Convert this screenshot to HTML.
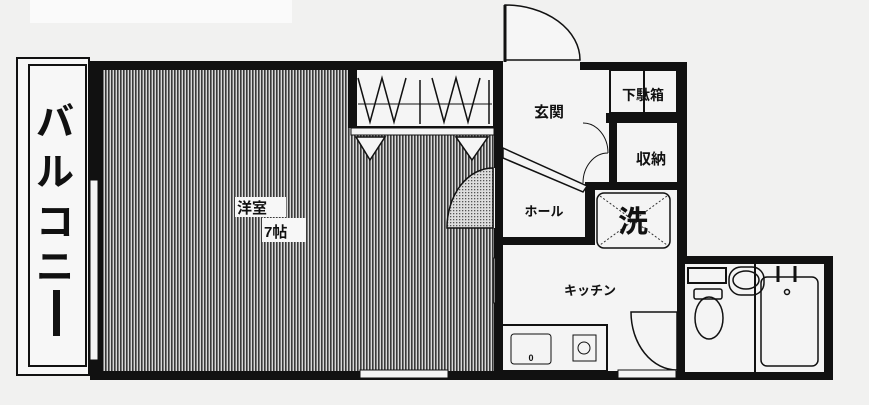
<!DOCTYPE html>
<html><head><meta charset="utf-8"><style>
html,body{margin:0;padding:0;background:#f1f1f0;}
svg{display:block}
text{font-family:"Liberation Sans","Noto Sans CJK JP",sans-serif;fill:#111;font-weight:bold}
</style></head><body>
<svg width="869" height="405" viewBox="0 0 869 405" xmlns="http://www.w3.org/2000/svg">
<defs>
<pattern id="h" width="3" height="10" patternUnits="userSpaceOnUse">
<rect width="3" height="10" fill="#d8d8d8"/><rect width="1.6" height="10" fill="#3a3a3a"/>
</pattern>
<pattern id="d" width="3" height="3" patternUnits="userSpaceOnUse">
<rect width="3" height="3" fill="#ddd"/><rect width="1.3" height="1.3" fill="#555"/>
</pattern>
</defs>
<rect x="0" y="0" width="869" height="405" fill="#f1f1f0"/>
<rect x="30" y="0" width="262" height="23" fill="#fafafa"/>

<!-- balcony -->
<rect x="17" y="58" width="72" height="317" fill="#f7f7f7" stroke="#111" stroke-width="2"/>
<rect x="29" y="65" width="57" height="301" fill="none" stroke="#111" stroke-width="2"/>
<text x="55" y="135" font-size="38" text-anchor="middle" font-weight="bold">バ</text>
<text x="55" y="185" font-size="38" text-anchor="middle">ル</text>
<text x="55" y="235" font-size="38" text-anchor="middle">コ</text>
<text x="55" y="280" font-size="38" text-anchor="middle">ニ</text>
<rect x="53" y="290" width="7" height="46" fill="#111"/>

<!-- walls -->
<rect x="90" y="61" width="413" height="319" fill="#111"/>
<rect x="103" y="70" width="391" height="301" fill="url(#h)"/>
<rect x="348" y="70" width="146" height="58" fill="#111"/>
<rect x="357" y="70" width="136" height="56" fill="#f5f5f5"/>
<rect x="351" y="128" width="143" height="7" fill="#f5f5f5" stroke="#111" stroke-width="1"/>
<polyline points="358,78 370,122 382,78 394,122 406,78" fill="none" stroke="#111" stroke-width="1.5"/>
<polyline points="432,78 444,122 456,78 468,122 480,78" fill="none" stroke="#111" stroke-width="1.5"/>
<line x1="358" y1="104" x2="492" y2="104" stroke="#111" stroke-width="1"/>
<line x1="420" y1="80" x2="420" y2="124" stroke="#111" stroke-width="1.5"/>
<line x1="489" y1="80" x2="489" y2="124" stroke="#111" stroke-width="1.5"/>
<polygon points="356,137 385,137 370,160" fill="#f5f5f5" stroke="#111" stroke-width="1.5"/>
<polygon points="456,137 488,137 472,160" fill="#f5f5f5" stroke="#111" stroke-width="1.5"/>
<!-- door arc -->
<path d="M493,168 A46,60 0 0 0 447,228 L493,228 Z" fill="url(#d)" stroke="#111" stroke-width="1.5"/>
<rect x="494" y="168" width="9" height="60" fill="#f5f5f5"/>
<rect x="494" y="258" width="9" height="45" fill="#f5f5f5" stroke="#111" stroke-width="1"/>
<rect x="90" y="180" width="8" height="180" fill="#f5f5f5" stroke="#111" stroke-width="1"/>
<rect x="360" y="370" width="88" height="8" fill="#f5f5f5" stroke="#111" stroke-width="1"/>
<rect x="235" y="197" width="51" height="20" fill="#f7f7f7"/>
<rect x="262" y="218" width="44" height="24" fill="#f7f7f7"/>
<text x="237" y="213" font-size="15" font-weight="normal">洋室</text>
<text x="264" y="237" font-size="15" font-weight="normal">7帖</text>

<!-- right block walls -->
<rect x="495" y="62" width="192" height="318" fill="#111"/>
<rect x="677" y="256" width="156" height="124" fill="#111"/>
<rect x="503" y="70" width="174" height="175" fill="#f4f4f4"/>
<rect x="503" y="245" width="174" height="126" fill="#f4f4f4"/>
<!-- entrance door -->
<rect x="503" y="62" width="77" height="8" fill="#f4f4f4"/>
<path d="M505,5 L505,60 L580,60 A75,55 0 0 0 505,5 Z" fill="#f6f6f6" stroke="#111" stroke-width="1.5"/>
<line x1="505" y1="5" x2="505" y2="62" stroke="#111" stroke-width="3"/>
<!-- getabako -->
<rect x="610" y="70" width="67" height="43" fill="#f4f4f4" stroke="#111" stroke-width="2"/>
<line x1="644" y1="70" x2="644" y2="113" stroke="#111" stroke-width="2"/>
<rect x="606" y="113" width="71" height="10" fill="#111"/>
<text x="643" y="100" font-size="14" text-anchor="middle" font-weight="normal">下駄箱</text>
<rect x="609" y="123" width="8" height="60" fill="#111"/>
<text x="651" y="164" font-size="15" text-anchor="middle">収納</text>
<path d="M583,123 A25,30 0 0 1 608,153 M583,183 A25,30 0 0 1 608,153" fill="none" stroke="#111" stroke-width="1"/>
<text x="549" y="117" font-size="15" text-anchor="middle">玄関</text>
<!-- hall -->
<rect x="585" y="182" width="92" height="8" fill="#111"/>
<rect x="585" y="182" width="10" height="63" fill="#111"/>
<rect x="503" y="237" width="92" height="8" fill="#111"/>
<polygon points="503,148 503,158 583,192 587,186" fill="#f4f4f4" stroke="#111" stroke-width="1.5"/>
<text x="544" y="216" font-size="13" text-anchor="middle">ホール</text>
<rect x="597" y="193" width="73" height="55" rx="7" fill="#f4f4f4" stroke="#111" stroke-width="1.5"/>
<line x1="600" y1="196" x2="667" y2="245" stroke="#333" stroke-width="1" stroke-dasharray="2,2"/>
<line x1="667" y1="196" x2="600" y2="245" stroke="#333" stroke-width="1" stroke-dasharray="2,2"/>
<text x="633" y="232" font-size="30" text-anchor="middle">洗</text>
<!-- kitchen -->
<text x="590" y="295" font-size="13" text-anchor="middle">キッチン</text>
<rect x="502" y="325" width="105" height="46" fill="#f4f4f4" stroke="#111" stroke-width="2"/>
<rect x="511" y="334" width="40" height="30" rx="3" fill="none" stroke="#111" stroke-width="1"/>
<text x="531" y="361" font-size="9" text-anchor="middle" font-weight="normal">0</text>
<rect x="573" y="335" width="23" height="26" fill="none" stroke="#111" stroke-width="1"/>
<circle cx="584" cy="348" r="6" fill="none" stroke="#111" stroke-width="1"/>
<path d="M631,312 A46,58 0 0 0 677,370 L677,312 Z" fill="#f4f4f4" stroke="#111" stroke-width="1.5"/>
<rect x="618" y="370" width="58" height="8" fill="#f4f4f4" stroke="#111" stroke-width="1"/>
<!-- toilet/bath -->
<rect x="685" y="264" width="139" height="108" fill="#f4f4f4"/>
<line x1="755" y1="264" x2="755" y2="372" stroke="#111" stroke-width="2"/>
<rect x="688" y="268" width="38" height="15" fill="none" stroke="#111" stroke-width="2"/>
<rect x="694" y="289" width="28" height="10" rx="2" fill="none" stroke="#111" stroke-width="1.5"/>
<ellipse cx="709" cy="318" rx="14" ry="21" fill="none" stroke="#111" stroke-width="1.5"/>
<rect x="729" y="267" width="35" height="28" rx="12" fill="none" stroke="#111" stroke-width="1.5"/>
<ellipse cx="746" cy="280" rx="13" ry="9" fill="none" stroke="#111" stroke-width="1.5"/>
<rect x="761" y="277" width="57" height="89" rx="6" fill="none" stroke="#111" stroke-width="1.5"/>
<line x1="778" y1="266" x2="778" y2="282" stroke="#111" stroke-width="3"/>
<line x1="795" y1="266" x2="795" y2="282" stroke="#111" stroke-width="3"/>
<circle cx="787" cy="292" r="2.5" fill="none" stroke="#111" stroke-width="1.5"/>
</svg>
</body></html>
